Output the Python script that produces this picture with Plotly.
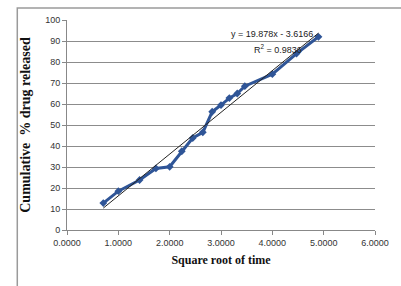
import plotly.graph_objects as go

sqrt_time = [0.7071, 1.0, 1.4142, 1.7321, 2.0, 2.2361, 2.4495, 2.6458, 2.8284,
             3.0, 3.1623, 3.3166, 3.4641, 4.0, 4.4721, 4.8990]
cum_release = [12.8, 18.5, 23.8, 29.3, 30.1, 37.5, 43.8, 46.5, 56.3,
               59.5, 62.8, 65.0, 68.5, 74.2, 84.0, 92.0]
slope, intercept = 19.878, -3.6166
x_ticks = [0, 1, 2, 3, 4, 5, 6]
x_tick_text = ["0.0000", "1.0000", "2.0000", "3.0000", "4.0000", "5.0000", "6.0000"]
y_ticks = [0, 10, 20, 30, 40, 50, 60, 70, 80, 90, 100]

trend_x = [sqrt_time[0], sqrt_time[-1]]
trend_y = [slope * x + intercept for x in trend_x]

W, H = 401, 286
ml, mr, mt, mb = 67, 18, 20, 56

fig = go.Figure()
fig.add_trace(go.Scatter(
    x=sqrt_time, y=cum_release, mode="lines+markers",
    line=dict(color="#2F5597", width=3),
    marker=dict(symbol="diamond", size=6, color="#2F5597"),
    showlegend=False))
fig.add_trace(go.Scatter(
    x=trend_x, y=trend_y, mode="lines",
    line=dict(color="#222222", width=1), showlegend=False))

ann_font = dict(family="Liberation Sans", size=9, color="#222")
fig.add_annotation(x=4.0, y=93.5, xref="x", yref="y",
                   text="y = 19.878x - 3.6166", showarrow=False,
                   font=ann_font, xanchor="center", yanchor="middle")
fig.add_annotation(x=4.12, y=86.0, xref="x", yref="y",
                   text="R<sup>2</sup> = 0.9836", showarrow=False,
                   font=ann_font, xanchor="center", yanchor="middle")

# chart border
fig.add_shape(type="rect", xref="paper", yref="paper",
              x0=(16 - ml) / (W - ml - mr), x1=1.2,
              y0=-0.4, y1=1 + (mt - 8) / (H - mt - mb),
              line=dict(color="#9a9a9a", width=1.5), layer="below")

tick_font = dict(family="Liberation Sans", size=9, color="#333")
fig.update_xaxes(range=[0, 6], tickvals=x_ticks, ticktext=x_tick_text,
                 showgrid=False, zeroline=False, showline=True,
                 linecolor="#888", linewidth=1, ticks="outside", ticklen=4,
                 tickcolor="#888", tickfont=tick_font,
                 title=dict(text="<b>Square root of time</b>",
                            font=dict(family="Liberation Serif, Times New Roman", size=12, color="#111"),
                            standoff=8))
fig.update_yaxes(range=[0, 100], tickvals=y_ticks, showgrid=True,
                 gridcolor="#8c8c8c", gridwidth=1, zeroline=False,
                 showline=True, linecolor="#888", linewidth=1,
                 ticks="outside", ticklen=4, tickcolor="#888", tickfont=tick_font,
                 title=dict(text="<b>Cumulative  % drug released</b>",
                            font=dict(family="Liberation Serif, Times New Roman", size=14, color="#111"),
                            standoff=11))

fig.update_layout(width=W, height=H, margin=dict(l=ml, r=mr, t=mt, b=mb),
                  paper_bgcolor="white", plot_bgcolor="white")
fig.write_html("out.html", config={"displayModeBar": False},
               post_script="document.body.style.margin='0';")
